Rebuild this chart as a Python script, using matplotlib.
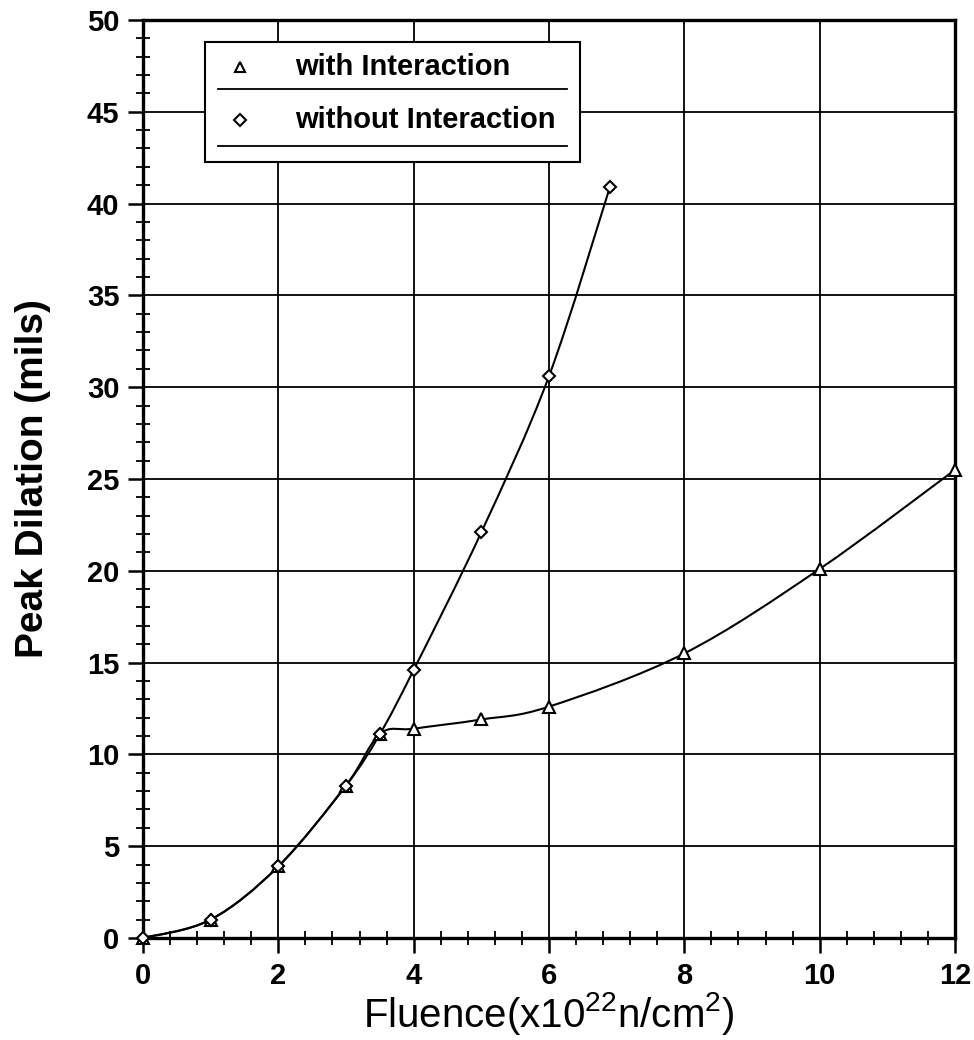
import numpy as np
import matplotlib
matplotlib.use("Agg")
import matplotlib.pyplot as plt
from matplotlib.path import Path
from matplotlib.patches import PathPatch, Rectangle
from matplotlib.lines import Line2D
from matplotlib.ticker import MultipleLocator

plt.rcParams['font.family'] = ['Liberation Sans', 'DejaVu Sans']
plt.rcParams['mathtext.fontset'] = 'custom'
plt.rcParams['mathtext.rm'] = 'Liberation Sans'
plt.rcParams['mathtext.it'] = 'Liberation Sans'

# data
fluence_with = [0, 1, 2, 3, 3.5, 4, 5, 6, 8, 10, 12]
dilation_with = [0, 1.0, 3.9, 8.3, 11.1, 11.4, 11.9, 12.6, 15.5, 20.1, 25.5]
fluence_without = [0, 1, 2, 3, 3.5, 4, 5, 6, 6.9]
dilation_without = [0, 1.0, 3.9, 8.3, 11.1, 14.6, 22.1, 30.6, 40.9]
legend_labels = ['with Interaction', 'without Interaction']


def smooth_path(xs, ys):
    # catmull-rom through the points, as bezier segments
    p = np.column_stack([xs, ys]).astype(float)
    ext = np.vstack([p[0], p, p[-1]])
    verts = [p[0]]
    codes = [Path.MOVETO]
    for i in range(len(p) - 1):
        a, b, c, d = ext[i], ext[i + 1], ext[i + 2], ext[i + 3]
        verts += [b + (c - a) / 6, c - (d - b) / 6, c]
        codes += [Path.CURVE4] * 3
    return Path(verts, codes)


fig = plt.figure(figsize=(9.74, 10.4), dpi=100)
ax = fig.add_axes([0.1468, 0.0981, 0.8337, 0.8827])

for xs, ys, m in [(fluence_with, dilation_with, '^'),
                  (fluence_without, dilation_without, 'D')]:
    ax.add_patch(PathPatch(smooth_path(xs, ys), fill=False, lw=1.5,
                           color='black', zorder=3))
    ax.plot(xs, ys, ls='none', marker=m, ms=8 if m == '^' else 6.5,
            mfc='white', mec='black', mew=1.5, zorder=4, clip_on=False)

ax.set_xlim(0, 12)
ax.set_ylim(0, 50)
ax.xaxis.set_major_locator(MultipleLocator(2))
ax.xaxis.set_minor_locator(MultipleLocator(0.4))
ax.yaxis.set_major_locator(MultipleLocator(5))
ax.yaxis.set_minor_locator(MultipleLocator(1))
ax.grid(True, which='major', color='black', lw=1.3)
ax.tick_params(which='major', direction='out', length=11, width=1.8,
               labelsize=21, pad=6)
ax.tick_params(which='minor', direction='inout', length=10, width=1.3)
for lab in ax.get_xticklabels() + ax.get_yticklabels():
    lab.set_fontweight('bold')
for s in ax.spines.values():
    s.set_linewidth(2.4)

ax.set_ylabel('Peak Dilation (mils)', fontsize=28, fontweight='bold',
              labelpad=26)
ax.set_xlabel(r'Fluence(x10$^{22}$n/cm$^{2}$)', fontsize=29, labelpad=0)

# legend box drawn by hand, with rules under each entry
ax.add_patch(Rectangle((0.0764, 0.8453), 0.4616, 0.1307,
                       transform=ax.transAxes, facecolor='white',
                       edgecolor='black', lw=1.5, zorder=6))
for yy in [0.9248, 0.8627]:
    ax.add_line(Line2D([0.0924, 0.522], [yy, yy], transform=ax.transAxes,
                       color='black', lw=1.3, zorder=7))
for yy, m, lab in [(0.9488, '^', legend_labels[0]),
                   (0.891, 'D', legend_labels[1])]:
    ax.plot([0.1195], [yy], transform=ax.transAxes, marker=m,
            ms=7 if m == '^' else 6, mfc='white', mec='black', mew=1.5,
            zorder=8, clip_on=False)
    ax.text(0.187, yy, lab, transform=ax.transAxes, fontsize=21,
            fontweight='bold', va='center', ha='left', zorder=8)

fig.savefig('out.png', dpi=100)
